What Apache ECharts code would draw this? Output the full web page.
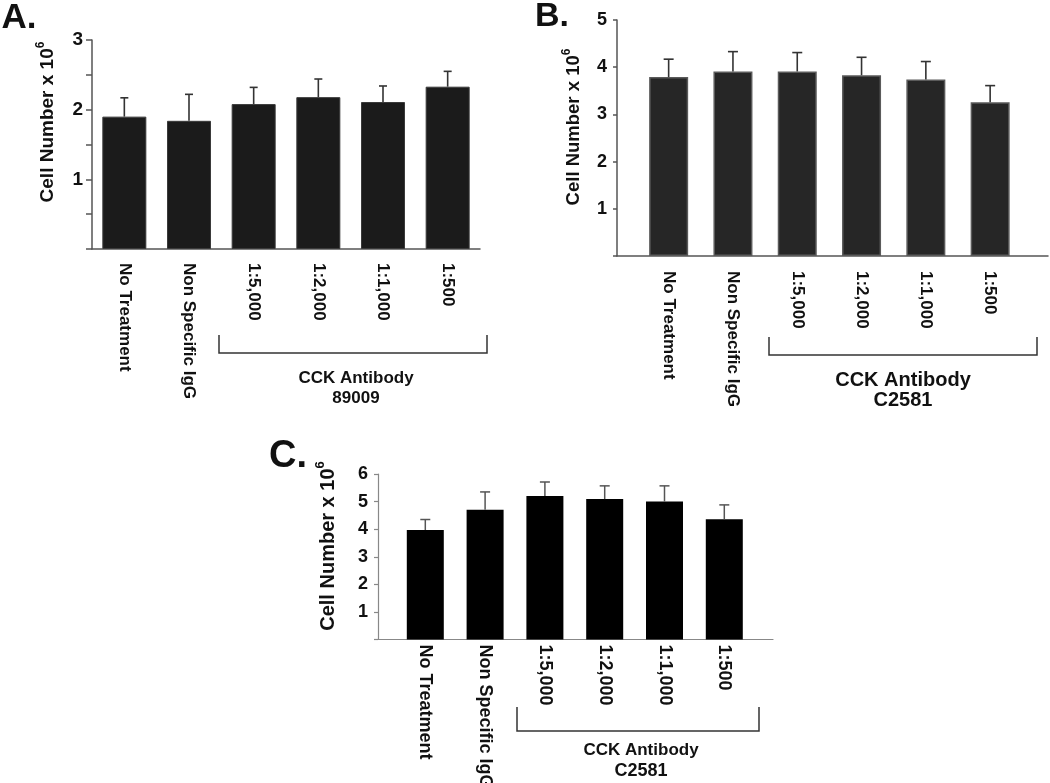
<!DOCTYPE html>
<html>
<head>
<meta charset="utf-8">
<script src="https://cdn.jsdelivr.net/npm/echarts@6/dist/echarts.min.js"></script>
<style>
html,body{margin:0;padding:0;background:#fff;}
#chart{width:1050px;height:783px;}
</style>
</head>
<body>
<div id="chart"></div>
<script>
const categories = ['No Treatment', 'Non Specific IgG', '1:5,000', '1:2,000', '1:1,000', '1:500'];
const valuesA = [1.90, 1.84, 2.08, 2.18, 2.11, 2.33];
const errorsA = [0.27, 0.38, 0.24, 0.26, 0.23, 0.22];
const valuesB = [3.79, 3.91, 3.91, 3.83, 3.74, 3.26];
const errorsB = [0.38, 0.42, 0.40, 0.38, 0.38, 0.35];
const valuesC = [3.97, 4.70, 5.20, 5.09, 5.00, 4.36];
const errorsC = [0.38, 0.65, 0.51, 0.48, 0.57, 0.52];
const yMaxA = 3, yMaxB = 5, yMaxC = 6;
const groupLabel = 'CCK Antibody';
const antibodyA = '89009';
const antibodyB = 'C2581';
const antibodyC = 'C2581';
const yTitle = '{a|Cell Number x 10}{s|6}';

const FONT = 'Liberation Sans, Arial, Helvetica, sans-serif';

function errSeries(xi, yi, vals, errs, color, lw, capHalf) {
  return {
    type: 'custom', xAxisIndex: xi, yAxisIndex: yi, z: 5,
    data: vals.map((v, i) => [i, v, errs[i]]),
    renderItem: function (params, api) {
      const i = api.value(0), v = api.value(1), e = api.value(2);
      const p0 = api.coord([i, v]);
      const p1 = api.coord([i, v + e]);
      const st = { stroke: color, lineWidth: lw };
      return { type: 'group', children: [
        { type: 'line', shape: { x1: p0[0], y1: p0[1], x2: p1[0], y2: p1[1] }, style: st },
        { type: 'line', shape: { x1: p1[0] - capHalf, y1: p1[1], x2: p1[0] + capHalf, y2: p1[1] }, style: st }
      ]};
    }
  };
}

function yTitleText(x, y, size) {
  return {
    type: 'text', x: x, y: y, rotation: Math.PI / 2,
    style: {
      text: yTitle, align: 'center', verticalAlign: 'middle',
      rich: {
        a: { fontFamily: FONT, fontWeight: 'bold', fontSize: size, fill: '#111', lineHeight: size + 4, verticalAlign: 'bottom' },
        s: { fontFamily: FONT, fontWeight: 'bold', fontSize: Math.round(size * 0.65), fill: '#111', lineHeight: size + 4, verticalAlign: 'top' }
      }
    }
  };
}

function bracket(x1, x2, yTop, yBot, color) {
  return { type: 'polyline', shape: { points: [[x1, yTop], [x1, yBot], [x2, yBot], [x2, yTop]] },
    style: { stroke: color, lineWidth: 1.5, fill: null } };
}
function txt(x, y, s, size, extra) {
  return Object.assign({ type: 'text', x: x, y: y,
    style: { text: s, fontFamily: FONT, fontWeight: 'bold', fontSize: size, fill: '#111', align: 'center', verticalAlign: 'middle' } }, extra || {});
}

const hiddenY = (max) => ({ type: 'value', min: 0, max: max, show: false });
const G = (o) => Object.assign({ containLabel: false, outerBoundsMode: 'none' }, o);

const chart = echarts.init(document.getElementById('chart'), null, { renderer: 'canvas' });
const option = {
  backgroundColor: '#fff',
  animation: false,
  grid: [
    G({ left: 92, top: 40, width: 388, height: 209 }),          // A
    G({ left: 617, top: 20, width: 431, height: 236 }),         // B outer
    G({ left: 636.5, top: 20, width: 385.8, height: 236 }),     // B inner
    G({ left: 378, top: 474, width: 395, height: 165.5 }),      // C outer
    G({ left: 395.4, top: 474, width: 358.8, height: 165.5 })   // C inner
  ],
  xAxis: [
    { gridIndex: 0, type: 'category', data: categories,
      axisLine: { lineStyle: { color: '#555', width: 1.5 } },
      axisTick: { alignWithLabel: true, length: 7, lineStyle: { color: '#555', width: 1.5 } },
      axisLabel: { rotate: -90, margin: 14, interval: 0, fontFamily: FONT, fontWeight: 'bold', fontSize: 17, color: '#111' } },
    { gridIndex: 1, type: 'value', min: 0, max: 1,
      axisLine: { show: true, onZero: false, lineStyle: { color: '#555', width: 1.5 } },
      axisTick: { show: false }, axisLabel: { show: false }, splitLine: { show: false } },
    { gridIndex: 2, type: 'category', data: categories,
      axisLine: { show: false },
      axisTick: { alignWithLabel: true, length: 5, lineStyle: { color: '#555', width: 1.2 } },
      axisLabel: { rotate: -90, margin: 15, interval: 0, fontFamily: FONT, fontWeight: 'bold', fontSize: 17, color: '#111' } },
    { gridIndex: 3, type: 'value', min: 0, max: 1,
      axisLine: { show: true, onZero: false, lineStyle: { color: '#888', width: 1.2 } },
      axisTick: { show: false }, axisLabel: { show: false }, splitLine: { show: false } },
    { gridIndex: 4, type: 'category', data: categories,
      axisLine: { show: false },
      axisTick: { alignWithLabel: true, length: 3, lineStyle: { color: '#888', width: 1 } },
      axisLabel: { rotate: -90, margin: 5, interval: 0, fontFamily: FONT, fontWeight: 'bold', fontSize: 18, color: '#111' } }
  ],
  yAxis: [
    { gridIndex: 0, type: 'value', min: 0, max: yMaxA, interval: 0.5,
      axisLine: { show: true, lineStyle: { color: '#555', width: 1.5 } },
      axisTick: { show: true, length: 6, lineStyle: { color: '#555', width: 1.5 } },
      splitLine: { show: false },
      axisLabel: { margin: 9, fontFamily: FONT, fontWeight: 'bold', fontSize: 19, color: '#111',
        formatter: v => (v > 0 && Number.isInteger(v)) ? String(v) : '' } },
    { gridIndex: 1, type: 'value', min: 0, max: yMaxB, interval: 1,
      axisLine: { show: true, lineStyle: { color: '#555', width: 1.5 } },
      axisTick: { show: true, length: 4, lineStyle: { color: '#555', width: 1.5 } },
      splitLine: { show: false },
      axisLabel: { margin: 10, fontFamily: FONT, fontWeight: 'bold', fontSize: 18, color: '#111',
        formatter: v => v > 0 ? String(v) : '' } },
    Object.assign({ gridIndex: 2 }, hiddenY(yMaxB)),
    { gridIndex: 3, type: 'value', min: 0, max: yMaxC, interval: 1,
      axisLine: { show: true, lineStyle: { color: '#888', width: 1.2 } },
      axisTick: { show: true, length: 4, lineStyle: { color: '#888', width: 1.2 } },
      splitLine: { show: false },
      axisLabel: { margin: 10, fontFamily: FONT, fontWeight: 'bold', fontSize: 18, color: '#111',
        formatter: v => v > 0 ? String(v) : '' } },
    Object.assign({ gridIndex: 4 }, hiddenY(yMaxC))
  ],
  series: [
    { type: 'bar', xAxisIndex: 0, yAxisIndex: 0, data: valuesA, barWidth: 44,
      itemStyle: { color: '#1b1b1b', borderColor: '#3a3a3a', borderWidth: 1 } },
    errSeries(0, 0, valuesA, errorsA, '#333', 1.6, 4),
    { type: 'bar', xAxisIndex: 2, yAxisIndex: 2, data: valuesB, barWidth: 39,
      itemStyle: { color: '#262626', borderColor: '#5a5a5a', borderWidth: 1.5 } },
    errSeries(2, 2, valuesB, errorsB, '#333', 1.6, 5),
    { type: 'bar', xAxisIndex: 4, yAxisIndex: 4, data: valuesC, barWidth: 37,
      itemStyle: { color: '#000' } },
    errSeries(4, 4, valuesC, errorsC, '#555', 1.5, 5)
  ],
  graphic: [
    txt(19, 18, 'A.', 35),
    txt(552, 17, 'B.', 34),
    txt(288, 457, 'C.', 38),
    yTitleText(46, 122, 19),
    yTitleText(572, 127, 18.5),
    yTitleText(326, 546, 20),
    bracket(219, 487, 335, 353, '#333'),
    txt(356, 378, groupLabel, 17),
    txt(356, 398, antibodyA, 17),
    bracket(769, 1037, 337, 355, '#333'),
    txt(903, 380, groupLabel, 20),
    txt(903, 400, antibodyB, 20),
    bracket(517, 759, 707, 731, '#333'),
    txt(641, 750, groupLabel, 17),
    txt(641, 771, antibodyC, 18)
  ]
};
chart.setOption(option);
</script>
</body>
</html>
